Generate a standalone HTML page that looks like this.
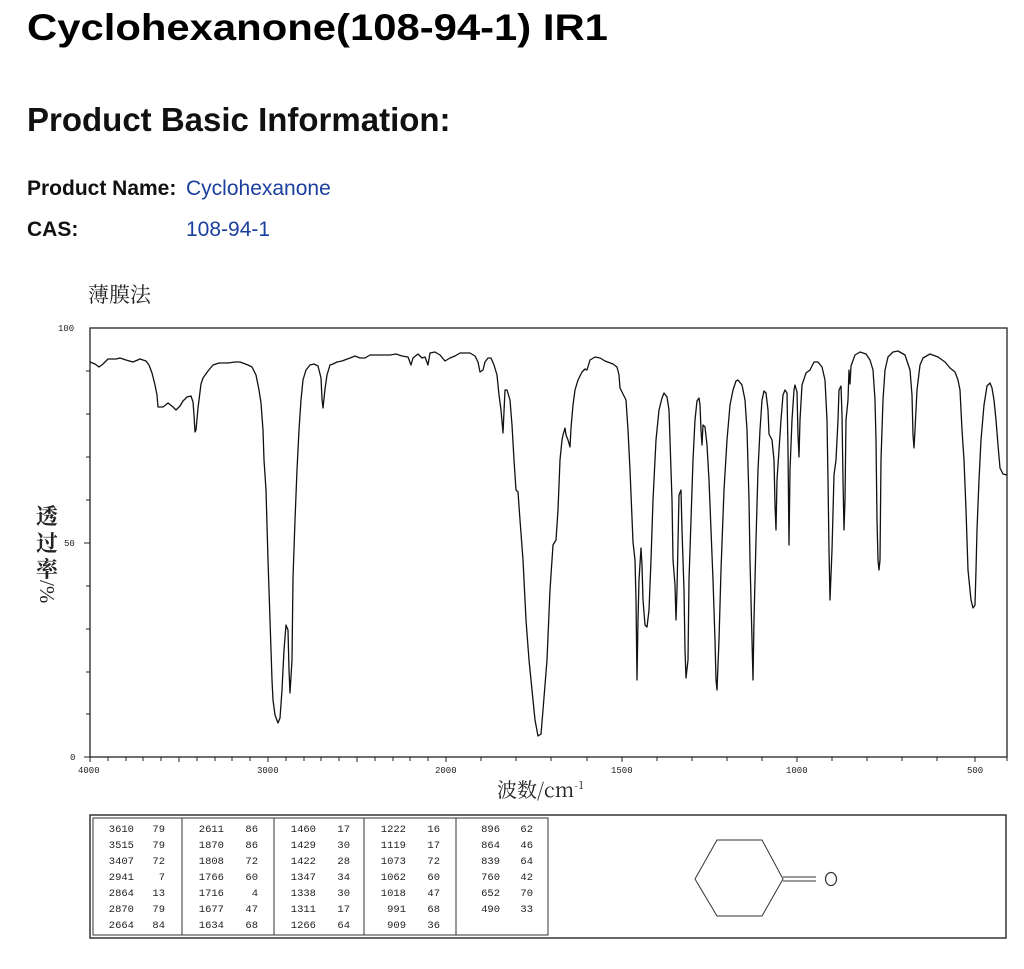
<!DOCTYPE html>
<html><head><meta charset="utf-8"><style>
body{margin:0;background:#fff;width:1024px;height:969px;overflow:hidden;font-family:"Liberation Sans",Arial,sans-serif}
.t{position:absolute;white-space:nowrap;line-height:1}
</style></head><body>
<div class="t" style="left:27px;top:9px;font-size:37px;font-weight:bold;color:#000;transform:scaleX(1.13);transform-origin:0 0">Cyclohexanone(108-94-1) IR1</div>
<div class="t" style="left:27px;top:103px;font-size:33px;font-weight:bold;color:#111">Product Basic Information:</div>
<div class="t" style="left:27px;top:178px;font-size:21px;font-weight:bold;color:#111">Product Name:</div>
<div class="t" style="left:186px;top:178px;font-size:21px;color:#1a3f9e">Cyclohexanone</div>
<div class="t" style="left:27px;top:219px;font-size:21px;font-weight:bold;color:#111">CAS:</div>
<div class="t" style="left:186px;top:219px;font-size:21px;color:#1a3f9e">108-94-1</div>
<svg width="1024" height="969" style="position:absolute;left:0;top:0" font-family="'Liberation Mono',monospace">
<text x="88" y="302" font-size="21" font-family="'Noto Serif CJK SC','Noto Sans CJK SC',serif" fill="#222">薄膜法</text>
<rect x="90" y="328" width="917" height="429" fill="none" stroke="#222" stroke-width="1.3"/>
<g stroke="#222" stroke-width="1">
<path d="M90 371h-4M90 414h-4M90 457h-4M90 500h-4M90 543h-6M90 586h-4M90 629h-4M90 672h-4M90 714h-4M90 757h-6"/>
<path d="M90 757v5M108 757v4M126 757v4M143 757v4M161 757v4M179 757v5M197 757v4M215 757v4M232 757v4M250 757v4M268 757v5M286 757v4M304 757v4M321 757v4M339 757v4M357 757v5M375 757v4M393 757v4M410 757v4M428 757v4M446 757v5M481 757v4M516 757v4M551 757v4M587 757v4M622 757v5M657 757v4M692 757v4M727 757v4M762 757v4M797 757v5M832 757v4M867 757v4M902 757v4M937 757v4M975 757v5M1007 757v4"/>
</g>
<g font-size="9" fill="#222">
<text x="58" y="331">100</text><text x="64" y="546">50</text><text x="70" y="760">0</text>
<text x="78" y="773">4000</text><text x="257" y="773">3000</text><text x="435" y="773">2000</text><text x="611" y="773">1500</text><text x="786" y="773">1000</text><text x="967" y="773">500</text>
</g>
<g font-size="22" font-weight="bold" font-family="'Noto Serif CJK SC',serif" fill="#222" text-anchor="middle">
<text x="47" y="524">透</text><text x="47" y="551">过</text><text x="47" y="577">率</text>
</g>
<text font-size="21" font-family="'Liberation Serif',serif" fill="#222" transform="translate(40,580) rotate(90)">/%</text>
<text x="497" y="797" font-size="20" font-family="'Noto Serif CJK SC',serif" fill="#222">波数/cm<tspan font-size="11" dy="-8">-1</tspan></text>
<polyline fill="none" stroke="#111" stroke-width="1.3" stroke-linejoin="round" points="90,362 95,364 99,367 103,364 108,359 116,359 120,358 126,360 133,362 140,359 146,361 149,365 152,373 155,385 157,395 158,407 163,407 168,403 173,407 176,410 180,406 183,401 187,397 191,396 193,402 194,415 195,432 196,430 198,408 201,384 203,378 208,371 213,365 219,363 228,363 235,362 240,362 248,365 252,367 256,375 259,390 261,403 263,430 264,460 266,490 268,560 270,620 272,680 273,700 275,715 278,723 280,718 282,690 284,650 286,625 288,630 289,670 290,693 292,660 293,578 295,520 297,470 299,430 301,400 303,380 306,370 310,365 314,364 318,366 321,378 322,399 323,408 325,389 327,375 330,365 333,364 337,362 342,361 350,358 355,356 360,358 365,358 370,355 380,355 390,355 396,354 402,356 408,357 411,365 413,358 418,354 422,358 425,357 428,365 430,353 435,352 440,355 445,361 450,358 455,356 460,353 470,353 475,356 478,362 480,372 483,370 485,362 488,358 491,358 494,365 497,375 499,395 501,410 503,433 505,390 507,390 510,400 512,425 514,460 516,490 518,492 520,520 523,560 526,620 529,660 532,690 535,720 538,736 541,734 543,710 547,660 550,590 553,545 556,540 558,510 560,460 562,440 563,435 565,428 566,435 568,440 570,447 571,428 573,405 575,390 578,380 582,372 585,369 587,370 590,360 595,357 600,358 605,361 613,364 617,367 619,375 620,388 626,400 628,430 630,470 633,542 635,560 636,600 637,680 638,620 639,580 641,548 642,565 643,600 645,625 647,627 649,610 651,560 653,500 656,440 659,410 662,398 664,393 667,397 669,410 671,470 672,500 673,560 675,585 676,620 677,590 679,495 681,490 682,530 684,590 685,650 686,678 688,660 689,580 691,520 693,460 695,420 697,401 699,398 700,405 701,430 702,445 703,425 705,427 707,445 709,480 711,530 713,580 715,640 716,680 717,690 719,640 721,570 724,490 727,440 730,405 733,390 736,381 738,380 742,385 745,400 747,430 749,500 750,560 752,640 753,680 754,620 756,540 758,470 760,430 762,400 764,391 766,393 768,410 769,434 772,440 774,460 775,505 776,530 777,480 779,450 781,420 783,395 785,390 787,393 788,450 789,545 790,470 792,420 794,390 795,385 797,392 798,435 799,457 800,420 802,385 806,373 810,370 814,362 818,362 822,367 825,380 827,420 828,480 829,550 830,600 832,550 834,475 836,460 838,420 839,390 841,386 842,415 843,480 844,530 845,500 846,420 848,400 849,370 850,384 851,366 855,355 860,352 866,354 870,360 873,370 875,400 876,440 877,520 878,560 879,570 880,560 881,460 883,400 885,370 888,357 893,352 898,351 905,355 910,370 912,395 913,435 914,448 915,430 917,390 920,365 923,358 930,354 938,357 945,362 950,368 955,372 958,380 960,390 962,430 964,460 966,510 968,570 969,580 971,600 973,608 975,605 976,570 977,530 979,480 981,440 984,405 987,386 990,383 992,388 994,400 996,420 998,445 1000,468 1003,474 1007,475"/>
<rect x="90" y="815" width="916" height="123" fill="none" stroke="#333" stroke-width="1.5"/>
<rect x="93" y="818" width="455" height="117" fill="none" stroke="#333" stroke-width="1"/>
<path d="M182 818v117M274 818v117M364 818v117M456 818v117" stroke="#333" stroke-width="1"/>
<g font-size="10.5" fill="#222" text-anchor="end">
<text x="134" y="832">3610</text><text x="134" y="848">3515</text><text x="134" y="864">3407</text><text x="134" y="880">2941</text><text x="134" y="896">2864</text><text x="134" y="912">2870</text><text x="134" y="928">2664</text>
<text x="165" y="832">79</text><text x="165" y="848">79</text><text x="165" y="864">72</text><text x="165" y="880">7</text><text x="165" y="896">13</text><text x="165" y="912">79</text><text x="165" y="928">84</text>
<text x="224" y="832">2611</text><text x="224" y="848">1870</text><text x="224" y="864">1808</text><text x="224" y="880">1766</text><text x="224" y="896">1716</text><text x="224" y="912">1677</text><text x="224" y="928">1634</text>
<text x="258" y="832">86</text><text x="258" y="848">86</text><text x="258" y="864">72</text><text x="258" y="880">60</text><text x="258" y="896">4</text><text x="258" y="912">47</text><text x="258" y="928">68</text>
<text x="316" y="832">1460</text><text x="316" y="848">1429</text><text x="316" y="864">1422</text><text x="316" y="880">1347</text><text x="316" y="896">1338</text><text x="316" y="912">1311</text><text x="316" y="928">1266</text>
<text x="350" y="832">17</text><text x="350" y="848">30</text><text x="350" y="864">28</text><text x="350" y="880">34</text><text x="350" y="896">30</text><text x="350" y="912">17</text><text x="350" y="928">64</text>
<text x="406" y="832">1222</text><text x="406" y="848">1119</text><text x="406" y="864">1073</text><text x="406" y="880">1062</text><text x="406" y="896">1018</text><text x="406" y="912">991</text><text x="406" y="928">909</text>
<text x="440" y="832">16</text><text x="440" y="848">17</text><text x="440" y="864">72</text><text x="440" y="880">60</text><text x="440" y="896">47</text><text x="440" y="912">68</text><text x="440" y="928">36</text>
<text x="500" y="832">896</text><text x="500" y="848">864</text><text x="500" y="864">839</text><text x="500" y="880">760</text><text x="500" y="896">652</text><text x="500" y="912">490</text>
<text x="533" y="832">62</text><text x="533" y="848">46</text><text x="533" y="864">64</text><text x="533" y="880">42</text><text x="533" y="896">70</text><text x="533" y="912">33</text>
</g>
<path d="M695 879L717 840L762 840L783 879L762 916L717 916Z" fill="none" stroke="#333" stroke-width="1"/>
<path d="M783 877h33M783 881h33" stroke="#333" stroke-width="1"/>
<ellipse cx="831" cy="879" rx="5.5" ry="6.5" fill="none" stroke="#333" stroke-width="1.2"/>
</svg>
</body></html>
